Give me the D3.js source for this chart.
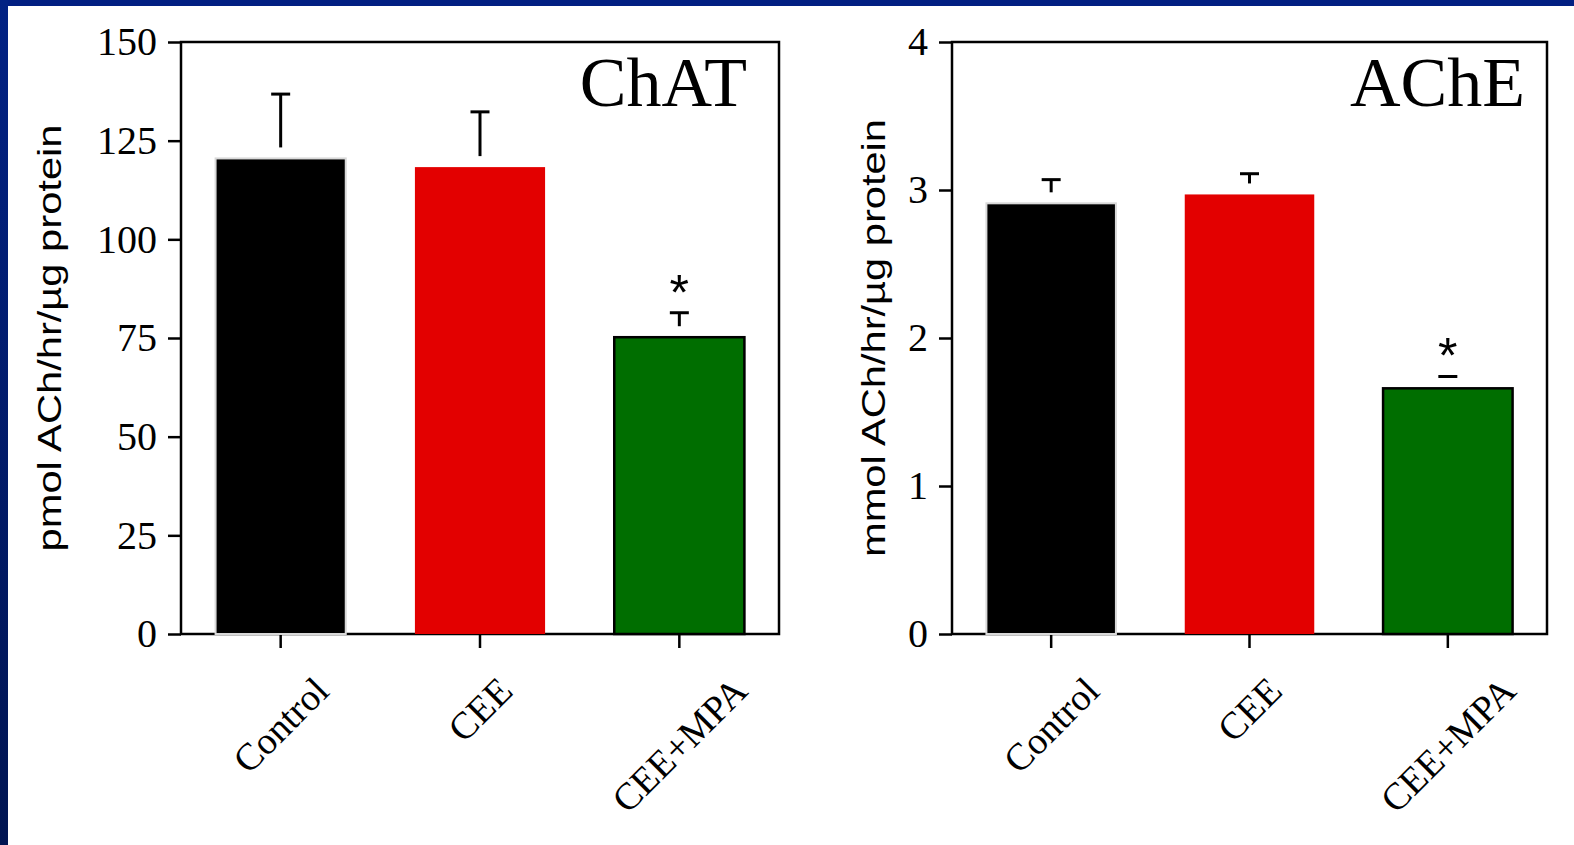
<!DOCTYPE html>
<html>
<head>
<meta charset="utf-8">
<script src="https://cdn.jsdelivr.net/npm/d3@7"></script>
<style>
  html, body { margin: 0; padding: 0; background: #fff; }
  svg { display: block; }
</style>
</head>
<body>
<svg id="chart" width="1574" height="845"></svg>
<script>
// ---- data ----
const categories = ["Control", "CEE", "CEE+MPA"];
const chatMean = [120.5, 118.3, 75.2];
const chatSem = [16.3, 14.0, 6.2];
const acheMean = [2.91, 2.97, 1.66];
const acheSem = [0.16, 0.14, 0.08];
const significant = [false, false, true];
const chatTicks = [0, 25, 50, 75, 100, 125, 150];
const acheTicks = [0, 1, 2, 3, 4];
const barColors = ["#000000", "#e30000", "#006e00"];
const barStrokes = ["#d8d8d8", "none", "#000000"];

const svg = d3.select("#chart");

// blue slide frame (top and left)
const grad = svg.append("defs").append("linearGradient")
  .attr("id", "leftGrad").attr("x1", 0).attr("y1", 0).attr("x2", 0).attr("y2", 1);
grad.append("stop").attr("offset", "0%").attr("stop-color", "#022284");
grad.append("stop").attr("offset", "100%").attr("stop-color", "#011552");
svg.append("rect").attr("x", 0).attr("y", 0).attr("width", 1574).attr("height", 6).attr("fill", "#021f82");
svg.append("rect").attr("x", 0).attr("y", 0).attr("width", 8).attr("height", 845).attr("fill", "url(#leftGrad)");

const panels = [
  { x0: 181, x1: 779, title: "ChAT", titleInset: 32, ylabel: "pmol ACh/hr/\u00b5g protein", labelX: 61, labelLen: 427,
    mean: chatMean, sem: chatSem, ticks: chatTicks, max: 150 },
  { x0: 952, x1: 1547, title: "AChE", titleInset: 22, ylabel: "mmol ACh/hr/\u00b5g protein", labelX: 885, labelLen: 438,
    mean: acheMean, sem: acheSem, ticks: acheTicks, max: 4 }
];
const yTop = 42, yBot = 634;
const serif = "'Liberation Serif', 'Times New Roman', serif";
const sans = "'Liberation Sans', Arial, sans-serif";

panels.forEach(p => {
  const g = svg.append("g");
  const x = d3.scaleBand().domain(categories).range([p.x0, p.x1])
    .paddingInner(0.347).paddingOuter(0.1735);
  const y = d3.scaleLinear().domain([0, p.max]).range([yBot, yTop]);

  // y axis ticks
  const ya = g.append("g").attr("transform", `translate(${p.x0},0)`)
    .call(d3.axisLeft(y).tickValues(p.ticks).tickSize(13).tickPadding(11).tickFormat(d3.format("d")));
  ya.select(".domain").remove();
  ya.selectAll(".tick line").attr("stroke", "#000").attr("stroke-width", 2.5);
  ya.selectAll(".tick text").attr("font-family", serif).attr("font-size", 40).attr("fill", "#000");

  // x axis ticks
  const xa = g.append("g").attr("transform", `translate(0,${yBot})`)
    .call(d3.axisBottom(x).tickSize(14).tickFormat(""));
  xa.select(".domain").remove();
  xa.selectAll(".tick line").attr("stroke", "#000").attr("stroke-width", 2.5);

  // frame
  g.append("rect").attr("x", p.x0).attr("y", yTop)
    .attr("width", p.x1 - p.x0).attr("height", yBot - yTop)
    .attr("fill", "none").attr("stroke", "#000").attr("stroke-width", 2.5);

  // bars
  g.selectAll("rect.bar").data(categories).join("rect").attr("class", "bar")
    .attr("x", d => x(d)).attr("width", x.bandwidth())
    .attr("y", (d, i) => y(p.mean[i]))
    .attr("height", (d, i) => y(0) - y(p.mean[i]))
    .attr("fill", (d, i) => barColors[i])
    .attr("stroke", (d, i) => barStrokes[i])
    .attr("stroke-width", (d, i) => i === 2 ? 2.5 : 2);

  // error bars (upper only)
  const gap = 11, capW = 19;
  categories.forEach((c, i) => {
    const cx = x(c) + x.bandwidth() / 2;
    const yc = y(p.mean[i] + p.sem[i]);
    const ys = y(p.mean[i]) - gap;
    if (ys > yc) {
      g.append("line").attr("x1", cx).attr("x2", cx).attr("y1", yc).attr("y2", ys)
        .attr("stroke", "#000").attr("stroke-width", 3);
    }
    g.append("line").attr("x1", cx - capW / 2).attr("x2", cx + capW / 2).attr("y1", yc).attr("y2", yc)
      .attr("stroke", "#000").attr("stroke-width", 3);
    if (significant[i]) {
      g.append("text").attr("x", cx).attr("y", yc - 31 + 28)
        .attr("text-anchor", "middle").attr("font-family", sans)
        .attr("font-size", 50).attr("fill", "#000").text("*");
    }
  });

  // x labels, rotated
  categories.forEach(c => {
    const cx = x(c) + x.bandwidth() / 2;
    const t = g.append("text").attr("font-family", serif).attr("font-size", 38)
      .attr("fill", "#000").attr("text-anchor", "middle").attr("dominant-baseline", "central")
      .text(c);
    const L = t.node().getComputedTextLength();
    const cy = 684 + (L / 2) * Math.SQRT1_2;
    t.attr("transform", `translate(${cx},${cy}) rotate(-45)`);
  });

  // title
  g.append("text").attr("x", p.x1 - p.titleInset).attr("y", 106)
    .attr("text-anchor", "end").attr("font-family", serif).attr("font-size", 70)
    .attr("fill", "#000").text(p.title);

  // y label
  g.append("text").attr("transform", `translate(${p.labelX},${(yTop + yBot) / 2}) rotate(-90)`)
    .attr("text-anchor", "middle").attr("font-family", sans).attr("font-size", 33)
    .attr("textLength", p.labelLen).attr("lengthAdjust", "spacingAndGlyphs")
    .attr("fill", "#000").text(p.ylabel);
});
</script>
</body>
</html>
